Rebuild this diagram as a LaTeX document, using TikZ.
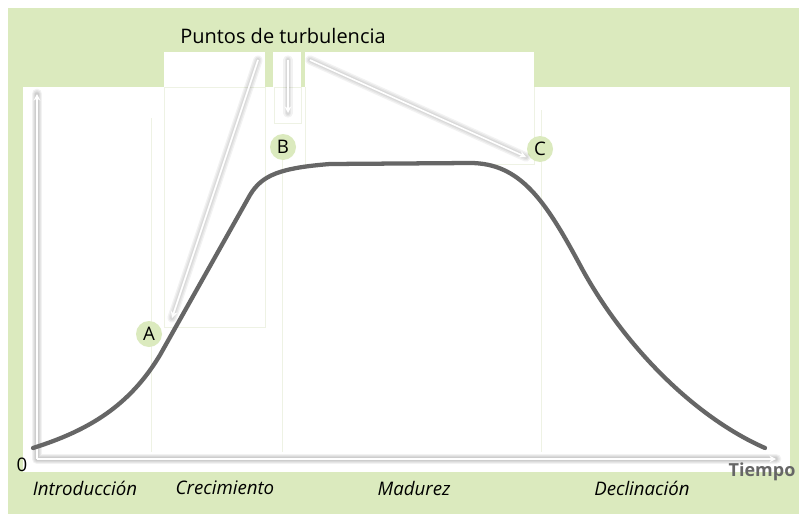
\documentclass[tikz,border=0pt]{standalone}
\usepackage{fontspec}
\setmainfont{Open Sans}
\usetikzlibrary{arrows.meta, positioning}

\definecolor{fondo}{RGB}{219,234,190}
\definecolor{curva}{RGB}{102,102,102}
\definecolor{tenue}{RGB}{238,242,228}

\begin{document}
\begin{tikzpicture}[
    x=0.75pt, y=-0.75pt,
    punto/.style={circle, fill=fondo, inner sep=0pt, minimum size=19.5pt, font=\fontsize{14}{16}\selectfont},
    etapa/.style={font=\fontsize{14}{16}\selectfont\itshape},
    titulo/.style={font=\fontsize{15}{18}\selectfont},
    separador/.style={draw=tenue, line width=0.6pt},
    sombra/.style={draw=black, opacity=0.05, line cap=round, line join=round, shift={(2,2)}},
    eje/.style={draw=white, line width=1.2pt, -{Stealth[length=5pt, width=5pt]}},
    puntero/.style={draw=white, line width=1.2pt, -{Stealth[length=5pt, width=5pt]}}
]
    \useasboundingbox (0,0) rectangle (799,514);

    % Background
    \fill[fondo] (8,8) rectangle (799,514);
    \fill[white] (23,87) rectangle (790,472);
    \fill[white] (164,52) rectangle (265,87);
    \fill[white] (273,52) rectangle (301,87);
    \fill[white] (305,52) rectangle (534,87);

    % Faint stage separators
    \draw[separador] (151,118) -- (151,452);
    \draw[separador] (164,87) rectangle (265,327);
    \draw[separador] (274,87) rectangle (301,123);
    \draw[separador] (282,150) -- (282,452);
    \draw[separador] (305,87) -- (305,164) -- (534,164) -- (534,87);
    \draw[separador] (541,110) -- (541,452);

    % Axes
    \coordinate (origen) at (37,459);
    \coordinate (ytop) at (37,94);
    \coordinate (xend) at (776,459);
    \foreach \w in {8,6,4,2.5} {
        \draw[sombra, line width=\w pt] (ytop) -- (origen) -- (xend);
    }
    \draw[eje] (origen) -- (ytop);
    \draw[eje] (origen) -- (xend);

    % Life cycle curve
    \draw[curva, line width=3.2pt, line cap=round]
        (33,448) .. controls (90,430) and (130,405) .. (160,355)
        -- (250,195)
        .. controls (262,175) and (280,168) .. (330,164)
        -- (470,163)
        .. controls (520,163) and (545,200) .. (580,265)
        .. controls (620,340) and (690,415) .. (765,448);

    % Turbulence points
    \node[titulo] (puntos) at (283,36) {Puntos de turbulencia};
    \node[punto] (A) at (149,334) {A};
    \node[punto] (B) at (283,147) {B};
    \node[punto] (C) at (540,149) {C};

    \coordinate (tA) at (258,60);
    \coordinate (tB) at (288,60);
    \coordinate (tC) at (310,60);
    \coordinate (eA) at (172,318);
    \coordinate (eB) at (288,113);
    \coordinate (eC) at (526,157);
    \foreach \p in {A,B,C} {
        \foreach \w in {7,5,3} {
            \draw[sombra, line width=\w pt] (t\p) -- (e\p);
        }
        \draw[puntero] (t\p) -- (e\p);
    }

    % Axis labels
    \node[font=\fontsize{14}{16}\selectfont] (cero) at (22,465) {0};
    \node[font=\fontsize{13.5}{16}\selectfont\bfseries, text=curva] (tiempo) at (762,472) {Tiempo};

    % Stages
    \node[etapa] (intro) at (85,488) {Introducción};
    \node[etapa] (crec) at (225,488) {Crecimiento};
    \node[etapa] (madurez) at (414,488) {Madurez};
    \node[etapa] (decl) at (642,488) {Declinación};

\end{tikzpicture}
\end{document}
